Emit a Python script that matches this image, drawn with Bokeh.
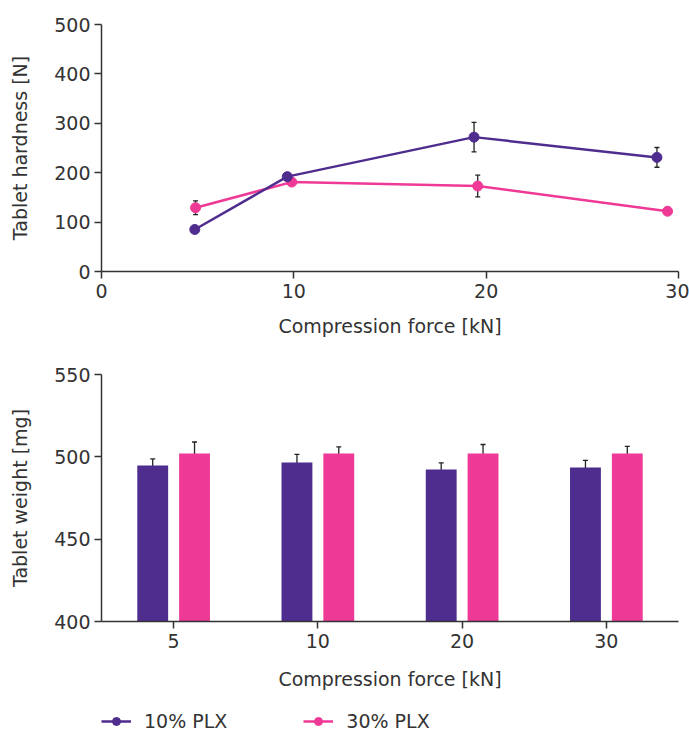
from bokeh.plotting import figure
from bokeh.models import (ColumnDataSource, Whisker, TeeHead, Legend, LegendItem,
                          FactorRange, FixedTicker, Range1d)
from bokeh.transform import dodge
from bokeh.layouts import column
from bokeh.embed import file_html
from bokeh.resources import INLINE

PURPLE = "#4F2D8F"
PINK = "#EE3A96"
TEXT = "#333333"
FONT = "DejaVu Sans"
FS = "19px"

# ---- top chart data: tablet hardness vs compression force ----
force_10 = [4.85, 9.66, 19.37, 28.88]
hardness_10 = [85, 192, 272, 231]
hardness_10_err = [3, 4, 30, 20]
force_30 = [4.89, 9.89, 19.56, 29.43]
hardness_30 = [129, 181, 173, 122]
hardness_30_err = [14, 4, 22, 3]
x_ticks_top = [0, 10, 20, 30]
y_ticks_top = [0, 100, 200, 300, 400, 500]

# ---- bottom chart data: tablet weight per compression force ----
categories = ["5", "10", "20", "30"]
weight_10 = [494.7, 496.5, 492.3, 493.5]
weight_10_err = [4, 5, 4, 4.3]
weight_30 = [502, 502, 502, 502]
weight_30_err = [7, 4, 5.5, 4.3]
y_ticks_bottom = [400, 450, 500, 550]

series_labels = ["10% PLX", "30% PLX"]


def style(p):
    p.xgrid.visible = False
    p.ygrid.visible = False
    p.outline_line_color = None
    p.background_fill_color = "white"
    p.border_fill_color = "white"
    for ax in (p.xaxis, p.yaxis):
        ax.axis_line_color = TEXT
        ax.axis_line_width = 1.5
        ax.major_tick_line_color = TEXT
        ax.major_tick_line_width = 1.5
        ax.major_tick_out = 7
        ax.major_tick_in = 0
        ax.minor_tick_line_color = None
        ax.major_label_text_font = FONT
        ax.major_label_text_font_size = FS
        ax.major_label_text_color = TEXT
        ax.axis_label_text_font = FONT
        ax.axis_label_text_font_size = FS
        ax.axis_label_text_font_style = "normal"
        ax.axis_label_text_color = TEXT
    p.xaxis.major_label_standoff = 5
    p.xaxis.axis_label_standoff = 14
    p.yaxis.major_label_standoff = 4
    p.yaxis.axis_label_standoff = 20


def heads():
    return dict(upper_head=TeeHead(size=5, line_color="#222222", line_width=1.3),
                lower_head=TeeHead(size=5, line_color="#222222", line_width=1.3))


# ---------------- top figure ----------------
p1 = figure(width=689, height=350, x_range=Range1d(0, 30), y_range=Range1d(0, 500),
            output_backend="svg", toolbar_location=None,
            min_border_left=101, min_border_right=11, min_border_top=24, min_border_bottom=79)
style(p1)
p1.xaxis.ticker = FixedTicker(ticks=x_ticks_top)
p1.yaxis.ticker = FixedTicker(ticks=y_ticks_top)
p1.xaxis.axis_label = "Compression force [kN]"
p1.yaxis.axis_label = "Tablet hardness [N]"

s10 = ColumnDataSource(dict(x=force_10, y=hardness_10,
                            lo=[v - e for v, e in zip(hardness_10, hardness_10_err)],
                            hi=[v + e for v, e in zip(hardness_10, hardness_10_err)]))
s30 = ColumnDataSource(dict(x=force_30, y=hardness_30,
                            lo=[v - e for v, e in zip(hardness_30, hardness_30_err)],
                            hi=[v + e for v, e in zip(hardness_30, hardness_30_err)]))

for src, col in ((s30, PINK), (s10, PURPLE)):
    p1.line("x", "y", source=src, line_color=col, line_width=2.5)
    p1.scatter("x", "y", source=src, size=10, fill_color=col, line_color=col)
for src in (s30, s10):
    p1.add_layout(Whisker(source=src, base="x", lower="lo", upper="hi",
                          line_color="#222222", line_width=1.3, **heads()))

# ---------------- bottom figure ----------------
p2 = figure(width=689, height=350, x_range=FactorRange(factors=categories),
            y_range=Range1d(400, 550),
            output_backend="svg", toolbar_location=None,
            min_border_left=101, min_border_right=1, min_border_top=24, min_border_bottom=79)
style(p2)
p2.xaxis.axis_label_standoff = 17
p2.yaxis.ticker = FixedTicker(ticks=y_ticks_bottom)
p2.xaxis.axis_label = "Compression force [kN]"
p2.yaxis.axis_label = "Tablet weight [mg]"

b = ColumnDataSource(dict(
    cat=categories, w10=weight_10, w30=weight_30,
    lo10=[v - e for v, e in zip(weight_10, weight_10_err)],
    hi10=[v + e for v, e in zip(weight_10, weight_10_err)],
    lo30=[v - e for v, e in zip(weight_30, weight_30_err)],
    hi30=[v + e for v, e in zip(weight_30, weight_30_err)],
))
OFF = 0.145
BW = 0.214
p2.vbar(x=dodge("cat", -OFF, range=p2.x_range), top="w10", bottom=400, width=BW,
        source=b, fill_color=PURPLE, line_color=None)
p2.vbar(x=dodge("cat", OFF, range=p2.x_range), top="w30", bottom=400, width=BW,
        source=b, fill_color=PINK, line_color=None)
for off, lo, hi in ((-OFF, "lo10", "hi10"), (OFF, "lo30", "hi30")):
    p2.add_layout(Whisker(source=b, base=dodge("cat", off, range=p2.x_range), lower=lo, upper=hi,
                          line_color="#222222", line_width=1.3, **heads()))

# ---------------- legend strip ----------------
# the series are re-used here only so that the legend has glyphs to draw;
# the strip's ranges keep the data itself out of view
p3 = figure(width=689, height=32, x_range=Range1d(-1000, -999), y_range=Range1d(-1000, -999),
            output_backend="svg", toolbar_location=None,
            x_axis_location=None, y_axis_location=None,
            min_border_left=101, min_border_right=0, min_border_top=0, min_border_bottom=0)
p3.xgrid.visible = False
p3.ygrid.visible = False
p3.outline_line_color = None
items = []
for lab, src, col in zip(series_labels, (s10, s30), (PURPLE, PINK)):
    lr = p3.line("x", "y", source=src, line_color=col, line_width=2.5)
    cr = p3.scatter("x", "y", source=src, size=9, fill_color=col, line_color=col)
    items.append(LegendItem(label=lab, renderers=[lr, cr]))
legend = Legend(items=items, orientation="horizontal", location=(0, 0),
                glyph_width=30, glyph_height=20, label_standoff=13, spacing=76,
                padding=0, margin=0, border_line_color=None, background_fill_alpha=0,
                label_text_font=FONT, label_text_font_size=FS, label_text_color=TEXT)
p3.add_layout(legend)

layout = column(p1, p2, p3, spacing=0)
open("out.html", "w").write(file_html(layout, INLINE))
